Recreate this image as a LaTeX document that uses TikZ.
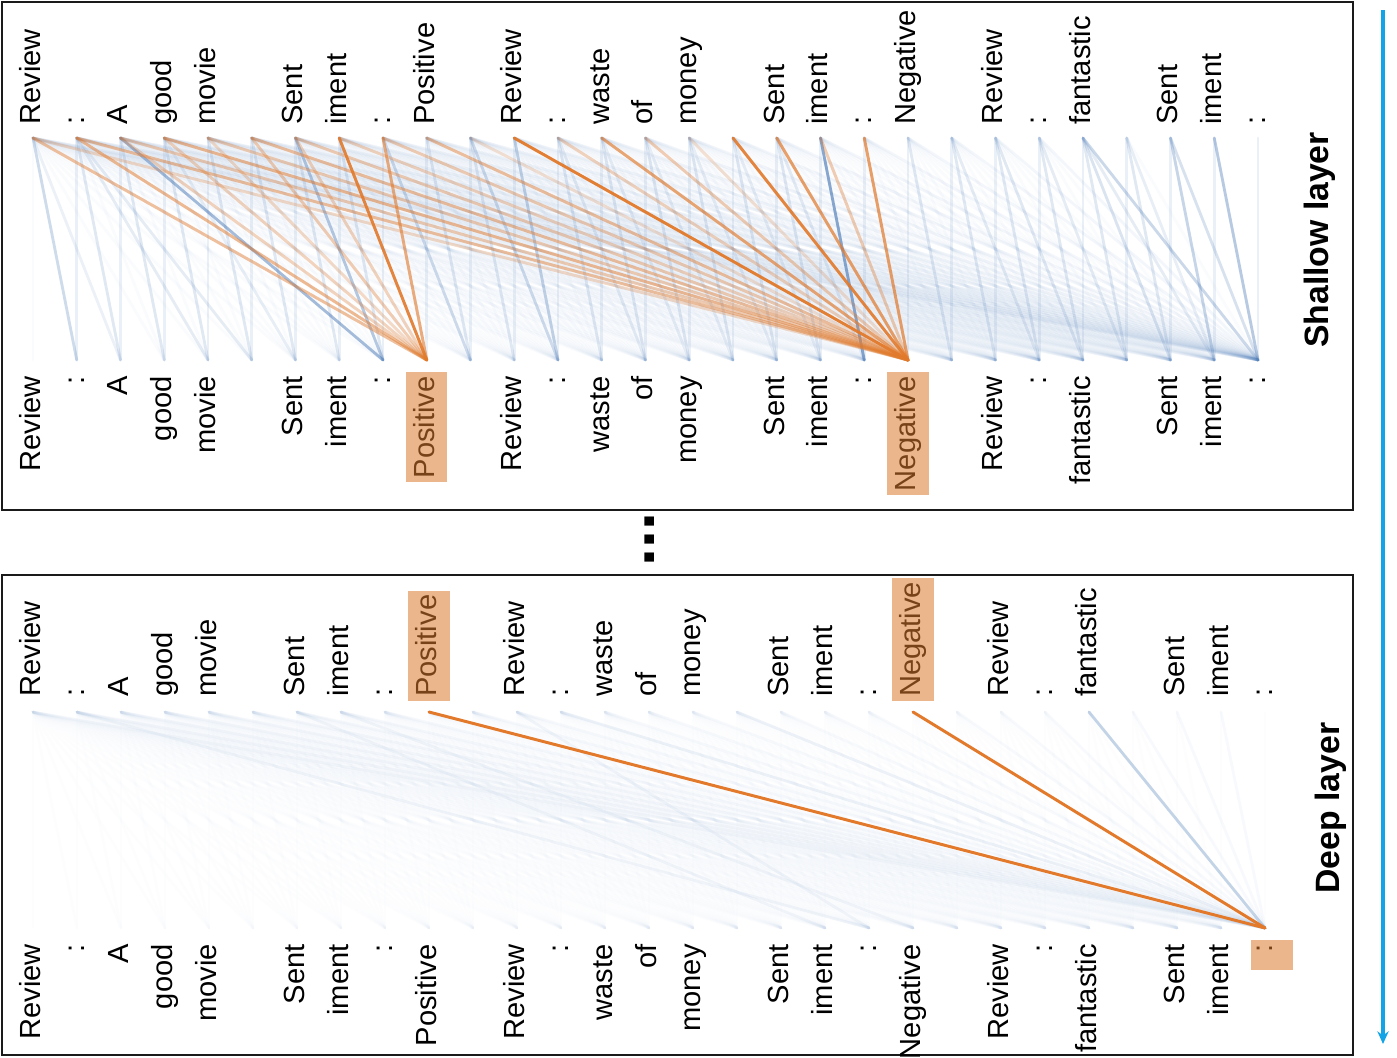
\documentclass[tikz,border=0pt]{standalone}
\usepackage{fontspec}
\setmainfont{Liberation Sans}
\usepackage{tikz}
\usepackage{xcolor}
\usetikzlibrary{arrows.meta,positioning,fit}
\definecolor{ink}{HTML}{1A1A1A}
\definecolor{attnorange}{HTML}{E2792B}
\definecolor{attnblue}{HTML}{4F7DB8}
\definecolor{hlorange}{HTML}{DB7A2E}
\definecolor{flowblue}{HTML}{12A4E6}
\tikzset{
  tok/.style={rotate=90,inner sep=0pt,text height=14.8pt,text depth=4.3pt,
              font=\fontsize{20.7}{24}\selectfont},
  hlbox/.style={fill=hlorange,fill opacity=0.55,draw=none,
                inner xsep=5pt,inner ysep=2.5pt},
  panelframe/.style={draw=ink,line width=1.2pt},
  bluelink/.style={draw=attnblue,line width=2pt,line cap=round},
  orangelink/.style={draw=attnorange,line width=2.1pt,line cap=round},
  layerlabel/.style={rotate=90,font=\fontsize{24}{28}\selectfont\bfseries},
  flowarr/.style={-{Stealth[length=9pt,width=8pt]},line width=2.4pt,
                  draw=flowblue}
}

\begin{document}
\begin{tikzpicture}[x=0.025cm,y=-0.025cm]
    \path[use as bounding box] (0,0) rectangle (1397,1058);
    \draw[panelframe] (2,2) rectangle (1353,510);
    \draw[panelframe] (2,575) rectangle (1353,1055);
    \foreach \i in {0,...,28}{
      \coordinate (st\i) at ({33+43.75*\i},138);
      \coordinate (sb\i) at ({33+43.75*\i},360);
      \coordinate (dt\i) at ({33+44*\i},712);
      \coordinate (db\i) at ({33+44*\i},928);
    }
    \foreach \i/\w in {0/Review,1/:,2/A,3/good,4/movie,6/Sent,7/iment,8/:,
        9/Positive,11/Review,12/:,13/waste,14/of,15/money,17/Sent,18/iment,
        19/:,20/Negative,22/Review,23/:,24/fantastic,26/Sent,27/iment,28/:}{
      \node[tok,anchor=west] (stl\i) at ({33+43.75*\i},125) {\w};
      \node[tok,anchor=east] (sbl\i) at ({33+43.75*\i},376) {\w};
      \node[tok,anchor=west] (dtl\i) at ({33+44*\i},697) {\w};
      \node[tok,anchor=east] (dbl\i) at ({33+44*\i},944) {\w};
    }
    \foreach \i in {0,...,28}{
      \foreach \j in {0,...,\i}{
        \draw[bluelink,opacity=0.03] (st\j) -- (sb\i);
        \draw[bluelink,opacity=0.01] (dt\j) -- (db\i);
      }
    }
    \foreach \i in {1,...,28}{
      \pgfmathtruncatemacro{\p}{\i-1}
      \draw[bluelink,opacity=0.09] (st\i) -- (sb\i);
      \ifnum\i=9 \else\ifnum\i=20 \else
        \draw[bluelink,opacity=0.15] (st\p) -- (sb\i);
      \fi\fi
    }
    \foreach \j/\i/\a in {0/1/0.12,2/8/0.5,6/8/0.4,8/10/0.25,10/12/0.25,
        11/12/0.2,1/4/0.12,1/5/0.12,0/2/0.08,3/6/0.1,12/14/0.12,13/15/0.1,
        14/16/0.1,15/17/0.1,16/18/0.1,17/19/0.12,18/19/0.6,21/23/0.12,
        22/24/0.15,23/25/0.12,24/26/0.18,24/27/0.12,25/27/0.1,26/27/0.18,
        24/28/0.28,26/28/0.2,27/28/0.28}{
      \draw[bluelink,opacity=\a] (st\j) -- (sb\i);
    }
    \foreach \j in {0,...,23}{
      \draw[bluelink,opacity=0.04] (st\j) -- (sb28);
    }
    \foreach \j/\a in {0/0.45,1/0.5,2/0.3,3/0.3,4/0.25,5/0.35,6/0.3,
        7/0.9,8/0.6}{
      \draw[orangelink,opacity=\a] (st\j) -- (sb9);
    }
    \foreach \j/\a in {0/0.25,1/0.45,2/0.35,3/0.5,4/0.35,5/0.45,6/0.35,
        7/0.3,8/0.35,9/0.45,10/0.2,11/0.95,12/0.3,13/0.65,14/0.35,15/0.2,
        16/0.9,17/0.7,18/0.35,19/0.7}{
      \draw[orangelink,opacity=\a] (st\j) -- (sb20);
    }
    \foreach \j in {0,...,27}{
      \draw[bluelink,opacity=0.03] (dt\j) -- (db28);
    }
    \foreach \j/\i in {1/19,7/20,11/19,12/28,16/28,6/18}{
      \draw[bluelink,opacity=0.06] (dt\j) -- (db\i);
    }
    \draw[bluelink,opacity=0.3] (dt24) -- (db28);
    \draw[orangelink] (dt9) -- (db28);
    \draw[orangelink] (dt20) -- (db28);
    \node[hlbox,fit=(sbl9)] (hlpos) {};
    \node[hlbox,fit=(sbl20)] (hlneg) {};
    \node[hlbox,fit=(dtl9)] (hldpos) {};
    \node[hlbox,fit=(dtl20)] (hldneg) {};
    \coordinate (colonend) at ({33+44*28},966);
    \node[hlbox,fit=(dbl28)(colonend),xshift=5pt] (hlcolon) {};
    \node[layerlabel] (shallow) at (1320,240) {Shallow layer};
    \node[layerlabel] (deep) at (1331,808) {Deep layer};
    \node[rotate=90,font=\fontsize{46}{46}\selectfont\bfseries] (gap)
      at (650,540) {...};
    \coordinate (flowtop) at (1383,10);
    \coordinate (flowend) at (1383,1044);
    \draw[flowarr] (flowtop) -- (flowend);
\end{tikzpicture}
\end{document}
